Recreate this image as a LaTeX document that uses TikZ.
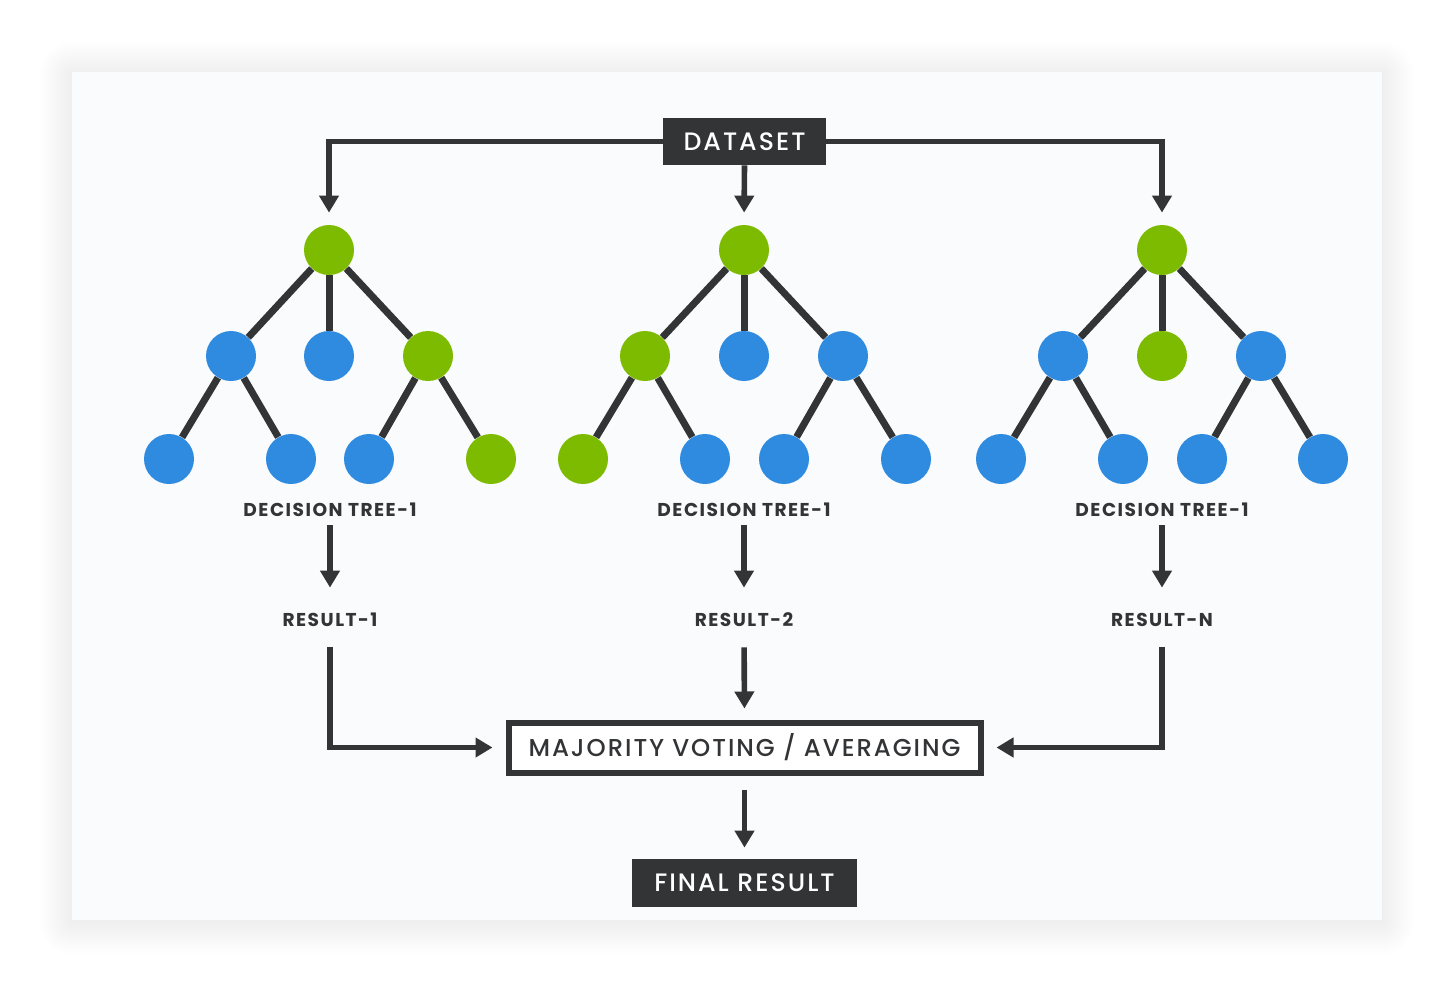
\documentclass[tikz,border=0pt]{standalone}
\usepackage{fontspec}
\setmainfont{Poppins}
\newfontfamily\boxfont{Poppins Medium}[LetterSpace=8]
\newfontfamily\labfont{Poppins}[LetterSpace=8,BoldFont={Poppins Bold}]
\usetikzlibrary{arrows.meta}
\definecolor{dark}{HTML}{333436}
\definecolor{grn}{HTML}{7CBB00}
\definecolor{blu}{HTML}{2E8BE0}
\definecolor{panel}{HTML}{FAFBFD}
\begin{document}
\begin{tikzpicture}[x=0.5pt,y=-0.5pt,
  every node/.style={inner sep=0pt},
  nd/.style={circle, minimum size=25pt, fill=#1},
  edge/.style={draw=dark, line width=3.5pt},
  conn/.style={draw=dark, line width=2.8pt},
  arr/.style={conn, -{Triangle[width=9.5pt,length=8.5pt]}},
  lab/.style={font=\labfont\bfseries\fontsize{9.3}{10}\selectfont, text=dark, text height=6.5pt, text depth=0pt},
  darkbox/.style={fill=dark, text=white, font=\boxfont\fontsize{12.6}{14}\selectfont, align=center},
]
\useasboundingbox (0,0) rectangle (1456,996);
\fill[white] (0,0) rectangle (1456,996);
% soft shadow
\foreach \i in {1,...,16}{
  \fill[black, opacity=0.0045, rounded corners=\i*1pt]
    (72-\i*2, 74-\i*2) rectangle (1382+\i*2, 922+\i*2);
}
\node[fill=panel, minimum width=655pt, minimum height=424pt] (panel) at (727,496) {};

% top box
\node[darkbox, minimum width=81.5pt, minimum height=23.5pt] (ds) at (744.5,141.5) {DATASET};

% tree 1
\node[nd=grn] (a0) at (329,250) {};
\node[nd=blu] (a1) at (231,356) {};
\node[nd=blu] (a2) at (329,356) {};
\node[nd=grn] (a3) at (428,356) {};
\node[nd=blu] (a4) at (169,459) {};
\node[nd=blu] (a5) at (291,459) {};
\node[nd=blu] (a6) at (369,459) {};
\node[nd=grn] (a7) at (491,459) {};
% tree 2
\node[nd=grn] (b0) at (744,250) {};
\node[nd=grn] (b1) at (645,356) {};
\node[nd=blu] (b2) at (744,356) {};
\node[nd=blu] (b3) at (843,356) {};
\node[nd=grn] (b4) at (583,459) {};
\node[nd=blu] (b5) at (705,459) {};
\node[nd=blu] (b6) at (784,459) {};
\node[nd=blu] (b7) at (906,459) {};
% tree 3
\node[nd=grn] (c0) at (1162,250) {};
\node[nd=blu] (c1) at (1063,356) {};
\node[nd=grn] (c2) at (1162,356) {};
\node[nd=blu] (c3) at (1261,356) {};
\node[nd=blu] (c4) at (1001,459) {};
\node[nd=blu] (c5) at (1123,459) {};
\node[nd=blu] (c6) at (1202,459) {};
\node[nd=blu] (c7) at (1323,459) {};

\foreach \t in {a,b,c}{
  \draw[edge] (\t0) -- (\t1);
  \draw[edge] (\t0) -- (\t2);
  \draw[edge] (\t0) -- (\t3);
  \draw[edge] (\t1) -- (\t4);
  \draw[edge] (\t1) -- (\t5);
  \draw[edge] (\t3) -- (\t6);
  \draw[edge] (\t3) -- (\t7);
}

% labels
\node[lab] (dt1) at (330,510) {DECISION TREE-1};
\node[lab] (dt2) at (744,510) {DECISION TREE-1};
\node[lab] (dt3) at (1162,510) {DECISION TREE-1};
\node[lab] (r1) at (330,620) {RESULT-1};
\node[lab] (r2) at (744,620) {RESULT-2};
\node[lab] (r3) at (1162,620) {RESULT-N};

% majority box
\node[draw=dark, line width=3pt, fill=white, minimum width=236pt, minimum height=25pt,
  font=\boxfont\fontsize{12.2}{14}\selectfont, text=dark] (mv) at (744.5,747.5) {MAJORITY VOTING / AVERAGING};
\node[darkbox, minimum width=112.5pt, minimum height=24pt] (fin) at (744.5,883) {FINAL RESULT};

% connectors
\draw[arr, shorten >=6pt] (ds.west) -| (a0.north);
\draw[arr, shorten >=6pt] (ds.east) -| (c0.north);
\draw[arr, shorten >=6pt] (ds.south) -- (b0.north);

\foreach \i in {1,2,3}{
  \draw[arr, shorten <=4.25pt, shorten >=12.75pt] (dt\i.south) -- (r\i.north);
}
\draw[arr, shorten <=10.25pt, shorten >=6.5pt] (r1.south) |- (mv.west);
\draw[arr, shorten <=10.25pt, shorten >=6.5pt] (r3.south) |- (mv.east);
\draw[arr, shorten <=10.25pt, shorten >=5.5pt] (r2.south) -- (mv.north);
\draw[arr, shorten <=7pt, shorten >=5.5pt] (mv.south) -- (fin.north);
\end{tikzpicture}
\end{document}
